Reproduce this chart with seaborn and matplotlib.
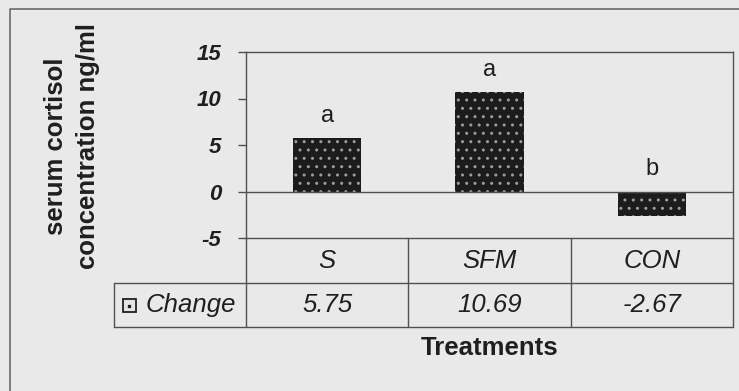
import matplotlib
matplotlib.use("Agg")
import matplotlib.pyplot as plt
from matplotlib.lines import Line2D
from matplotlib.patches import Rectangle
import matplotlib.transforms as mtransforms
import seaborn as sns
import pandas as pd

# Data
treatments = ["S", "SFM", "CON"]
change = [5.75, 10.69, -2.67]
change_labels = ["5.75", "10.69", "-2.67"]
groups = ["a", "a", "b"]
y_ticks = [-5, 0, 5, 10, 15]
series_name = "Change"

sns.set_theme(style="white")
plt.rcParams["font.family"] = ["Liberation Sans", "DejaVu Sans"]

W, H = 739, 391
BG = "#e9e9e9"
INK = "#1f1f1f"
LINE = "#505050"

fig = plt.figure(figsize=(W / 100, H / 100), dpi=100, facecolor=BG)

# plot area in pixel coordinates
px_left, px_right, px_top, px_bottom = 246, 733, 52, 238
ax = fig.add_axes([px_left / W, 1 - px_bottom / H,
                   (px_right - px_left) / W, (px_bottom - px_top) / H])
ax.set_facecolor(BG)

df = pd.DataFrame({"Treatment": treatments, "Change": change})
sns.barplot(data=df, x="Treatment", y="Change", order=treatments,
            color="#1c1c1c", saturation=1, width=0.42,
            hatch="..", edgecolor="#9c9c9c", linewidth=0, ax=ax)

ax.set_xlim(-0.5, len(treatments) - 0.5)
ax.set_ylim(-5, 15)
ax.set_yticks(y_ticks)
ax.set_yticklabels([str(t) for t in y_ticks], fontsize=16,
                   fontweight="bold", fontstyle="italic", color=INK)
ax.tick_params(axis="y", which="both", left=True, direction="out",
               length=6, width=1, color=LINE, pad=12)
ax.set_xticks([])
ax.set_xlabel("")
ax.set_ylabel("")
for side in ["left", "right", "top", "bottom"]:
    ax.spines[side].set_visible(True)
    ax.spines[side].set_color(LINE)
    ax.spines[side].set_linewidth(1)
ax.axhline(0, color=LINE, lw=1)

# significance letters above bars
for i, (v, g) in enumerate(zip(change, groups)):
    ax.annotate(g, (i, max(v, 0)), xytext=(0, 8), textcoords="offset points",
                ha="center", va="bottom", fontsize=17, color=INK)

# data table below the plot area
bt = mtransforms.blended_transform_factory(ax.transData, fig.transFigure)


def fy(y):
    return 1 - y / H


def hline(x0, x1, y):
    fig.add_artist(Line2D([x0 / W, x1 / W], [fy(y), fy(y)],
                          transform=fig.transFigure, color=LINE, lw=1))


def vline(x, y0, y1):
    fig.add_artist(Line2D([x / W, x / W], [fy(y0), fy(y1)],
                          transform=fig.transFigure, color=LINE, lw=1))


row1_top, row1_bot, row2_bot = 238, 283, 327
key_left = 114
hline(key_left, px_right, row1_bot)
hline(key_left, px_right, row2_bot)
vline(px_left, row1_top, row2_bot)
vline(px_right, row1_top, row2_bot)
vline(key_left, row1_bot, row2_bot)
for b in range(1, len(treatments)):
    xb = ax.transData.transform((b - 0.5, 0))[0]
    vline(xb, row1_top, row2_bot)

for i, (t, lab) in enumerate(zip(treatments, change_labels)):
    ax.text(i, fy((row1_top + row1_bot) / 2), t, transform=bt,
            ha="center", va="center", fontsize=18.5, fontstyle="italic",
            color=INK)
    ax.text(i, fy((row1_bot + row2_bot) / 2), lab, transform=bt,
            ha="center", va="center", fontsize=18.5, fontstyle="italic",
            color=INK)

# legend key inside the table
key_y = (row1_bot + row2_bot) / 2
fig.add_artist(Rectangle((123 / W, fy(key_y + 6.5)), 13 / W, 13 / H,
                         transform=fig.transFigure, facecolor="#e4e4e4",
                         edgecolor=INK, lw=1.3))
fig.add_artist(Line2D([129 / W], [fy(key_y + 1)], marker="s", markersize=1.5,
                      color=INK, transform=fig.transFigure))
fig.text(146 / W, fy(key_y), series_name, ha="left", va="center",
         fontsize=18.5, fontstyle="italic", color=INK)

# axis titles
fig.text(490 / W, fy(348), "Treatments", ha="center", va="center",
         fontsize=18.5, fontweight="bold", color=INK)
fig.text(72 / W, fy(146), "serum cortisol\nconcentration ng/ml",
         ha="center", va="center", rotation=90, fontsize=18.5,
         fontweight="bold", color=INK, linespacing=1.45,
         multialignment="center")

# chart border
fig.add_artist(Line2D([10 / W, 10 / W, 1.0], [0.0, fy(9), fy(9)],
                      transform=fig.transFigure, color="#6a6a6a", lw=1.2))

fig.savefig("out.png", dpi=100, facecolor=BG)
